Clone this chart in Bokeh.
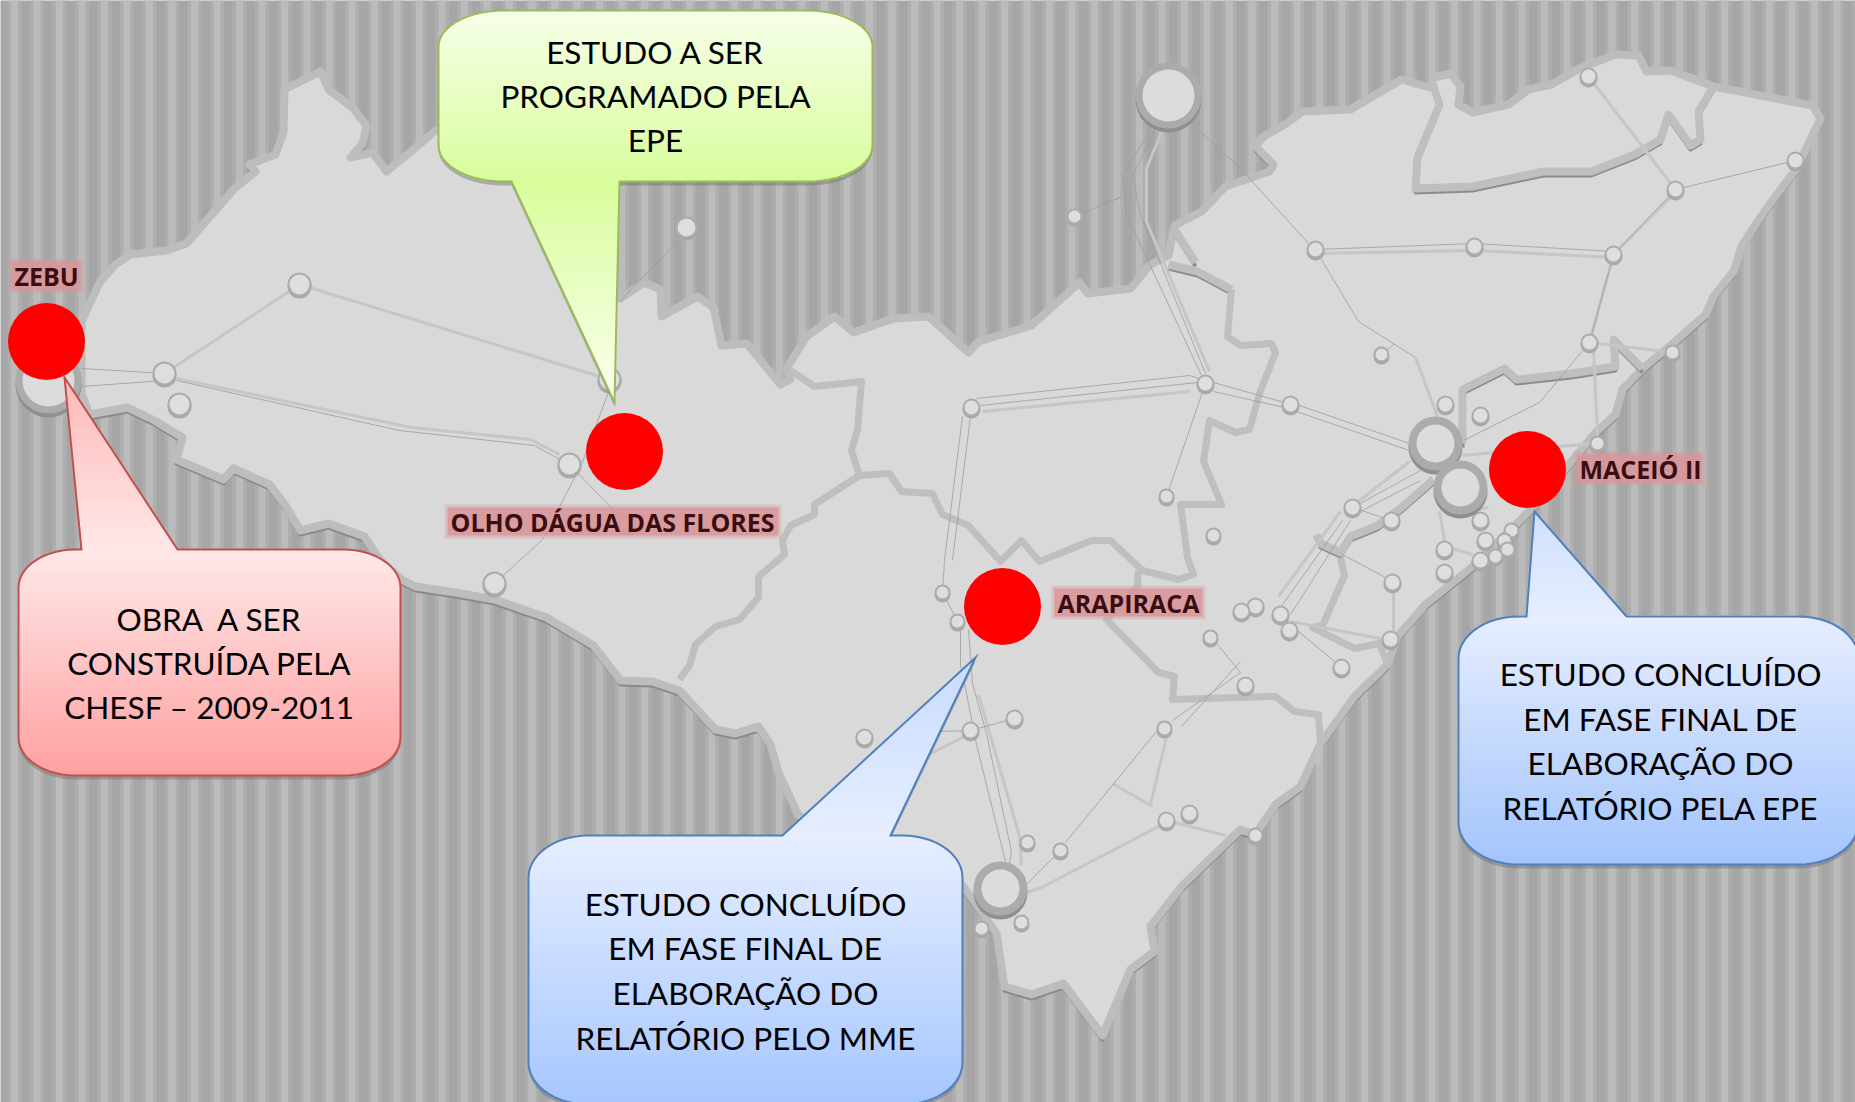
import numpy as np
from bokeh.plotting import figure
from bokeh.models import Range1d
from bokeh.core.properties import value
from bokeh.embed import file_html
from bokeh.resources import INLINE

# ---------- map data (picture pixels) ----------
outline = [(81,321),(99,282),(115,264),(130,254),(166,250),(186,243),(233,189),(255,171),(249,164),(275,154),
 (283,132),(284,89),(320,71),(328,89),(352,107),(366,125),(362,143),(350,157),(372,152),(386,171),(407,154),(435,130),
 (520,130),(612,285),(620,298),(644,282),(660,289),(661,316),(697,296),(713,307),(721,345),(746,343),(780,384),(790,379),
 (786,368),(806,336),(834,316),(853,332),(893,318),(928,316),(968,352),(978,341),(1031,325),(1079,282),(1087,293),
 (1130,288),(1150,264),(1168,255),(1174,225),(1201,211),(1225,186),(1269,171),(1273,164),(1255,146),(1263,136),(1286,123),
 (1302,111),(1350,109),(1401,79),(1429,87),(1433,77),(1450,73),(1460,86),(1458,104),(1472,112),(1508,104),(1528,89),
 (1551,84),(1579,68),(1615,54),(1638,55),(1646,71),(1670,70),(1713,86),(1812,105),(1820,118),(1796,168),(1769,204),
 (1757,221),(1741,246),(1733,271),(1713,296),(1705,314),(1670,345),(1642,368),(1622,389),(1615,414),(1595,432),(1565,468),
 (1532,507),(1508,532),(1472,566),(1425,604),(1397,636),(1387,664),(1354,696),(1320,743),(1300,786),(1275,804),(1255,834),
 (1240,829),(1217,851),(1181,886),(1150,926),(1154,951),(1130,969),(1102,1035),(1063,983),(1031,994),(1004,986),(996,933),
 (976,904),(962,885),(900,860),(798,815),(778,772),(770,744),(758,726),(735,733),(715,729),(679,690),(652,681),(620,680),
 (593,645),(546,617),(494,599),(455,592),(415,586),(401,579),(380,560),(364,536),(328,523),(300,530),(285,505),(269,484),
 (233,468),(223,479),(176,459),(182,437),(154,420),(127,407),(89,414),(81,393)]

plain_borders = [
 [(1231,289),(1227,336),(1240,345),(1271,343),(1275,352),(1259,393),(1249,429),(1235,432),
  (1209,420),(1203,461),(1221,504),(1180,504),(1187,557),(1193,574),(1178,579),(1142,570),(1110,540),(1091,540),
  (1039,561),(1021,540),(1000,561),(968,525),(942,514),(932,493),(901,491),(889,473),(859,475)],
 [(790,370),(814,386),(861,381),(857,429),(851,450),(859,475),(814,504),(814,514),(790,525),(782,540),(784,554),
  (758,576),(758,597),(739,619),(715,626),(695,644),(689,665),(679,679)],
 [(1138,570),(1137,586),(1106,619),(1158,672),(1174,676),(1172,699),(1275,696),(1294,711),(1318,714),(1320,743),(1316,764)],
 [(1340,557),(1344,575),(1322,625),(1312,627),(1354,648),(1379,643),(1387,664)],
]
shaded_borders = [
 [(1174,229),(1195,262)],
 [(1168,264),(1197,271),(1231,289)],
 [(1431,80),(1439,104),(1417,157),(1415,188),(1472,186),(1543,171),(1591,171),(1634,154),(1660,139),(1668,114),
  (1690,145),(1700,139),(1698,111),(1713,86)],
 [(1462,443),(1462,389),(1504,368),(1516,379),(1571,373),(1615,366),(1613,339),(1642,368)],
 [(1433,479),(1401,507),(1377,525),(1350,536),(1340,552),(1320,543),(1316,534)],
]

thin_lines = [
 [(81,368),(164,373)],[(81,386),(164,380)],
 [(176,380),(399,430),(534,445),(559,459)],
 [(609,389),(581,464),(542,539),(494,583)],
 [(675,243),(620,300)],
 [(569,464),(627,524)],
 [(976,398),(1189,375),(1205,380)],[(980,405),(1197,382)],
 [(962,416),(944,560),(942,592)],[(970,416),(952,560)],
 [(942,592),(957,621)],
 [(960,629),(960,665),(964,683),(976,744),(1005,861)],
 [(968,629),(972,683),(986,733),(1011,851),(1009,863)],
 [(970,730),(1014,718)],[(970,730),(936,731)],
 [(1150,129),(1122,175),(1126,214),(1201,375)],
 [(1154,132),(1132,175),(1140,214),(1205,373)],
 [(1074,216),(1122,196)],
 [(1205,383),(1166,496)],
 [(1191,123),(1240,168),(1308,243)],
 [(1213,382),(1284,402)],[(1213,391),(1284,407)],
 [(1296,404),(1409,443)],[(1296,411),(1409,450)],
 [(1315,249),(1474,243),(1613,251)],
 [(1613,254),(1675,189),(1795,160)],
 [(1315,249),(1358,321),(1415,357)],
 [(1381,354),(1393,344)],
 [(1613,254),(1589,342),(1539,402),(1463,440)],
 [(1420,470),(1352,507)],[(1420,480),(1352,515)],
 [(1350,520),(1290,614)],[(1342,520),(1280,607)],
 [(1352,507),(1391,520)],
 [(1342,554),(1385,577)],
 [(1286,621),(1334,661)],
 [(1240,661),(1181,726)],[(1240,672),(1172,720)],
 [(1217,644),(1240,672)],
 [(1156,731),(1065,842)],[(1060,850),(1027,883)],
]
light_lines = [
 [(299,284),(164,373)],[(299,284),(609,379)],
 [(176,378),(411,427),(530,439),(559,454)],
 [(982,411),(1189,391)],
 [(978,694),(1019,836),(1021,865)],
 [(964,736),(928,754)],
 [(1162,129),(1146,168),(1146,221),(1209,371)],
 [(1315,253),(1474,250),(1613,257)],
 [(1613,254),(1675,192)],[(1675,189),(1588,76)],
 [(1415,357),(1437,416)],
 [(1613,254),(1589,342)],
 [(1589,342),(1672,352)],[(1593,346),(1597,436)],
 [(1462,455),(1591,443)],
 [(1340,511),(1278,596)],[(1409,461),(1354,504)],
 [(1393,593),(1393,632)],[(1290,621),(1385,639)],
 [(1166,736),(1150,804)],[(1112,783),(1152,806)],
 [(1027,892),(1043,886),(1158,826)],[(1174,822),(1225,835)],
 [(1439,511),(1445,546),(1472,554)],[(1445,514),(1488,507)],
]

# node positions and outer radii
node_x = [164,179,299,609,569,494,627,971,1205,1166,1213,1315,1474,1613,1588,1675,1795,1381,1589,1672,1290,1445,1480,
          1597,1352,1391,1480,1511,1485,1504,1507,1444,1495,1480,1444,1392,1255,1241,1280,1289,1341,1390,1245,1255,
          942,957,1210,864,970,1014,1164,1166,1189,1027,1060,1021,981,686,1074]
node_y = [373,404,284,379,464,583,524,407,383,496,535,249,246,254,76,189,160,354,342,352,404,404,415,
          443,507,520,520,530,540,540,549,549,556,560,572,582,606,611,614,630,667,639,685,835,
          592,621,637,737,730,718,728,820,813,842,850,922,928,227,216]
node_r = [12,12,12,12,12,12,9,9,9,8,8,9,9,9,9,9,9,8,9,8,9,9,9,
          8,9,9,9,8,9,8,8,9,8,9,9,9,9,9,9,9,9,9,9,8,
          8,8,8,9,9,9,8,9,9,8,8,8,8,11,8]

ring_x = [48,1168,1435,1460,1000]
ring_y = [380,95,443,487,888]
ring_outer = [33,33,27,27,27]
ring_inner = [26,26,19,19,19]

marker_x = [46,624,1002,1527]
marker_y = [341,451,606,469]

label_text = ["ZEBU","OLHO DÁGUA DAS FLORES","ARAPIRACA","MACEIÓ II"]
label_left = [14,450,1057,1579]
label_right = [77,775,1199,1698]
label_y = [275,521,602,468]

callout_lines = [
 ["ESTUDO A SER","PROGRAMADO PELA","EPE"],
 ["OBRA \u00a0A SER","CONSTRUÍDA PELA","CHESF – 2009-2011"],
 ["ESTUDO CONCLUÍDO","EM FASE FINAL DE","ELABORAÇÃO DO","RELATÓRIO PELO MME"],
 ["ESTUDO CONCLUÍDO","EM FASE FINAL DE","ELABORAÇÃO DO","RELATÓRIO PELA EPE"],
]
callout_cx = [655,209,745,1660]
callout_text_y = [[51,95,139],[618,662,706],[903,947,992,1037],[673,718,762,807]]
callout_box = [(438,10,872,181),(18,549,400,775),(528,835,962,1104),(1458,616,1858,864)]
callout_corner = [(65,36),(57,38),(60,42),(60,42)]
callout_tail = [[(619,181),(614,402),(511,181)],[(81,549),(64,377),(177,549)],[(782,835),(975,657),(890,835)],[(1526,616),(1534,511),(1626,616)]]
callout_edge = ["#9bbb59","#c0504d","#4f81bd","#4f81bd"]
callout_tip_col = [(252,255,240),(255,184,184),(200,220,255),(207,224,255)]
callout_mid_col = [(216,253,156),(255,232,232),(230,238,255),(230,238,255)]
callout_top_col = [(247,255,232),(255,232,232),(230,238,255),(230,238,255)]
callout_bot_col = [(216,253,156),(255,160,160),(166,198,255),(163,196,252)]

W, H = 1855, 1102
p = figure(width=W, height=H, x_range=Range1d(0, W), y_range=Range1d(H, 0), toolbar_location=None,
           output_backend="svg", min_border=0, outline_line_color=None, background_fill_color="#a6a6a6")
p.axis.visible = False
p.grid.visible = False

# corrugated background
st = np.arange(14, 1860, 22.5)
p.quad(left=st-7, right=st+7, top=0, bottom=H, fill_color="#aeaeae", line_color=None)
p.quad(left=st-3.5, right=st+3.5, top=0, bottom=H, fill_color="#bbbbbb", line_color=None)

# map
ox, oy = zip(*outline)
ox = list(ox)+[ox[0]]; oy = list(oy)+[oy[0]]
p.line(ox, [y+4 for y in oy], line_color="#8a8a8a", line_width=4, line_join="round")
p.patch(ox, oy, fill_color="#d9d9d9", line_color="#bdbdbd", line_width=8, line_join="round")

def split(lines):
    return [[a for a, _ in l] for l in lines], [[b for _, b in l] for l in lines]

sx, sy = split(shaded_borders)
p.multi_line(sx, [[v+4 for v in l] for l in sy], line_color="#8c8c8c", line_width=4, line_join="round")
p.multi_line(sx, sy, line_color="#bfbfbf", line_width=8, line_join="round")
bx, by = split(plain_borders)
p.multi_line(bx, by, line_color="#bfbfbf", line_width=7, line_join="round")

lx, ly = split(light_lines)
p.multi_line(lx, ly, line_color="#c6c6c6", line_width=3, line_join="round")
tx, ty = split(thin_lines)
p.multi_line(tx, ty, line_color="#9c9c9c", line_width=1, line_alpha=.8)

# substations
p.circle(node_x, [y+2 for y in node_y], radius=node_r, fill_color="#a8a8a8", line_color=None)
p.circle(node_x, node_y, radius=[r-1 for r in node_r], fill_color="#dedede", line_color="#ababab", line_width=2)
p.circle(ring_x, [y+4 for y in ring_y], radius=ring_outer, fill_color="#8f8f8f", line_color=None)
p.circle(ring_x, ring_y, radius=ring_outer, fill_color="#ababab", line_color=None)
p.circle(ring_x, ring_y, radius=ring_inner, fill_color="#dcdcdc", line_color=None)

# highlighted sites
p.circle(marker_x, marker_y, radius=38.5, fill_color="#ff0000", line_color=None)

# label glow and text
for pad, w, a in ((6, 34, .35), (3, 28, .85)):
    p.multi_line([[l-pad, r+pad] for l, r in zip(label_left, label_right)], [[y, y] for y in label_y],
                 line_color="#d99699", line_width=w, line_alpha=a, line_cap="butt")
p.text(label_left, label_y, text=label_text, text_font=value("Open Sans"), text_font_style="bold",
       text_font_size="25px", text_color="#3a0d12", text_baseline="middle", text_align="left")

# callouts
def shape(box, corner, tail):
    l, t, r, b = box
    rx, ry = corner
    a = np.linspace(0, np.pi/2, 14)
    pts = []
    pts += [(l+rx-rx*np.cos(v), t+ry-ry*np.sin(v)) for v in a]
    if tail[0][1] == t:
        pts += tail
    pts += [(r-rx+rx*np.sin(v), t+ry-ry*np.cos(v)) for v in a]
    pts += [(r-rx+rx*np.cos(v), b-ry+ry*np.sin(v)) for v in a]
    if tail[0][1] == b:
        pts += tail
    pts += [(l+rx-rx*np.sin(v), b-ry+ry*np.cos(v)) for v in a]
    return pts

def span(pts, y):
    xs = []
    for (x0, y0), (x1, y1) in zip(pts, pts[1:]+pts[:1]):
        if (y0 <= y < y1) or (y1 <= y < y0):
            xs.append(x0+(y-y0)*(x1-x0)/(y1-y0))
    return (min(xs), max(xs)) if xs else None

def mix(c0, c1, f):
    return "#%02x%02x%02x" % tuple(int(round(a+(b-a)*f)) for a, b in zip(c0, c1))

for i in range(4):
    pts = shape(callout_box[i], callout_corner[i], callout_tail[i])
    l, t, r, b = callout_box[i]
    tip_y = callout_tail[i][1][1]
    px, py = zip(*pts)
    p.patch(px, [y+4 for y in py], fill_color="#6e6e6e", fill_alpha=.45, line_color=None)
    L, R, T, B, C = [], [], [], [], []
    if i == 0:
        ystart, ystop = t, tip_y
    else:
        ystart, ystop = tip_y, b
    for y in np.arange(ystart, ystop, 2.0):
        s = span(pts, y+1)
        if s is None:
            continue
        if i == 0:
            if y < b:
                c = mix(callout_top_col[i], callout_bot_col[i], (y-t)/(b-t))
            else:
                c = mix(callout_mid_col[i], callout_tip_col[i], (y-b)/(tip_y-b))
        else:
            if y < t:
                c = mix(callout_tip_col[i], callout_mid_col[i], (y-tip_y)/(t-tip_y))
            else:
                c = mix(callout_top_col[i], callout_bot_col[i], (y-t)/(b-t))
        L.append(s[0]); R.append(s[1]); T.append(y); B.append(y+2.6); C.append(c)
    p.quad(left=L, right=R, top=T, bottom=B, fill_color=C, line_color=None)
    p.patch(px, py, fill_color=None, line_color=callout_edge[i], line_width=2, line_join="miter")
    p.text([callout_cx[i]]*len(callout_lines[i]), callout_text_y[i], text=callout_lines[i],
           text_font=value("Lato"), text_font_size="31.5px", text_color="#000000",
           text_align="center", text_baseline="middle")

open("out.html", "w").write(file_html(p, INLINE))
